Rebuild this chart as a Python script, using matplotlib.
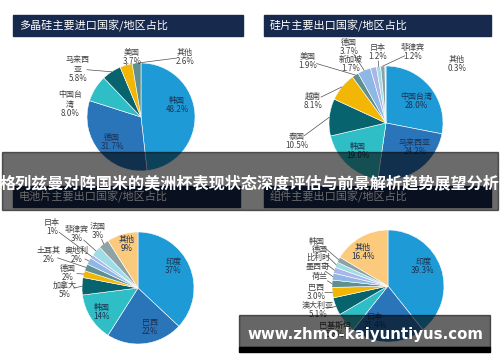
import numpy as np
import matplotlib
matplotlib.use('Agg')
import matplotlib.pyplot as plt
from matplotlib.patches import Rectangle

plt.rcParams['font.family'] = ['Noto Sans CJK SC', 'DejaVu Sans']

W, H = 500, 362

# 颜色
BLUE = '#1e9bd7'
MBLUE = '#2a74ba'
TEAL = '#30bec6'
DTEAL = '#07646f'
GOLD = '#f2b705'
GTEAL = '#5f8f8f'
LBLUE = '#8db8e6'
PERI = '#aab6ea'
LCYAN = '#9fdde6'
GRAY = '#8fa3a6'
PEACH = '#fcca7c'
NAVY = '#17294d'

# 多晶硅主要进口国家/地区占比
poly_names = ['韩国', '德国', '中国台\n湾', '马来西\n亚', '美国', '其他']
poly_vals = [48.2, 31.7, 8.0, 5.8, 3.7, 2.6]
poly_colors = [BLUE, MBLUE, TEAL, DTEAL, GOLD, GTEAL]

# 硅片主要出口国家/地区占比
wafer_names = ['中国台湾', '马来西亚', '韩国', '泰国', '越南', '美国', '德国', '新加坡', '日本', '菲律宾', '其他']
wafer_vals = [28.0, 24.2, 19.0, 10.5, 8.1, 1.9, 3.7, 1.7, 1.2, 1.2, 0.3]
wafer_colors = [BLUE, MBLUE, TEAL, DTEAL, GOLD, GTEAL, LBLUE, PERI, LCYAN, GRAY, PEACH]

# 电池片主要出口国家/地区占比
cell_names = ['印度', '巴西', '韩国', '加拿大', '德国', '土耳其', '奥地利', '日本', '菲律宾', '法国', '其他']
cell_vals = [37, 22, 14, 5, 2, 2, 2, 1, 3, 3, 9]
cell_colors = [BLUE, MBLUE, TEAL, DTEAL, GOLD, GTEAL, LBLUE, PERI, LCYAN, GRAY, PEACH]

# 组件主要出口国家/地区占比
mod_names = ['印度', '日本', '巴基斯坦', '澳大利亚', '巴西', '荷兰', '墨西哥', '比利时', '德国', '韩国', '其他']
mod_vals = [39.3, 21.4, 5.8, 5.1, 3.0, 2.1, 2.0, 1.7, 1.6, 1.6, 16.4]
mod_colors = [BLUE, MBLUE, TEAL, DTEAL, GOLD, GTEAL, LBLUE, PERI, LCYAN, GRAY, PEACH]
mod_show_pct = [True, True, True, True, True, False, False, False, False, False, True]

fig = plt.figure(figsize=(W / 100, H / 100), dpi=100)
ax = fig.add_axes([0, 0, 1, 1])


def Y(y):
    return H - y


def draw_pie(vals, names, colors, center, r, pos, lines, inside, show_pct=None, pct_fmt='{:.1f}%'):
    cx, cy = center
    wedges, _ = ax.pie(vals, colors=colors, startangle=90, counterclock=False,
                       center=(cx, Y(cy)), radius=r,
                       wedgeprops=dict(edgecolor='white', linewidth=0.4))
    for i, w in enumerate(wedges):
        txt = names[i]
        if show_pct is None or show_pct[i]:
            txt += '\n' + pct_fmt.format(vals[i])
        lx, ly = pos[i]
        col = '#1c3150' if inside[i] else '#404040'
        ax.text(lx, Y(ly), txt, ha='center', va='center', fontsize=5.8,
                color=col, linespacing=1.05, zorder=5)
        if lines[i]:
            mid = np.deg2rad((w.theta1 + w.theta2) / 2)
            ex = cx + r * np.cos(mid)
            ey = Y(cy) + r * np.sin(mid)
            dx, dy = ex - lx, ey - Y(ly)
            d = np.hypot(dx, dy)
            sx, sy = lx + dx / d * 9, Y(ly) + dy / d * 9
            ax.plot([sx, ex], [sy, ey], color='#505050', lw=0.5, zorder=4)


def title_box(x, y, w, h, text):
    ax.add_patch(Rectangle((x, Y(y + h)), w, h, color=NAVY, zorder=3))
    ax.text(x + 6, Y(y + h / 2), text, ha='left', va='center', fontsize=8,
            color='white', zorder=4)


title_box(13, 15, 230, 21, '多晶硅主要进口国家/地区占比')
title_box(264, 15, 227, 21, '硅片主要出口国家/地区占比')
title_box(13, 186, 227, 21, '电池片主要出口国家/地区占比')
title_box(264, 186, 227, 21, '组件主要出口国家/地区占比')

draw_pie(poly_vals, poly_names, poly_colors, (141, 117), 54,
         pos=[(177, 105), (112, 142), (70, 104), (78, 69), (132, 57), (185, 57)],
         lines=[False, False, False, True, True, True],
         inside=[True, True, False, False, False, False])

draw_pie(wafer_vals, wafer_names, wafer_colors, (386, 123), 57,
         pos=[(416, 101), (415, 147), (358, 151), (297, 141), (313, 101), (308, 61),
              (349, 47), (351, 64), (378, 52), (413, 52), (457, 64)],
         lines=[False, False, False, True, True, True, True, False, True, True, False],
         inside=[True, True, True, False, False, False, False, False, False, False, False])

draw_pie(cell_vals, cell_names, cell_colors, (138, 288), 56,
         pos=[(173, 266), (150, 327), (102, 312), (65, 290), (68, 273), (49, 255),
              (77, 255), (52, 227), (77, 234), (98, 231), (127, 244)],
         lines=[False, False, False, True, True, True, True, True, True, True, False],
         inside=[True, True, True, False, False, False, False, False, False, False, True],
         pct_fmt='{:.0f}%')

draw_pie(mod_vals, mod_names, mod_colors, (388, 286), 56,
         pos=[(423, 266), (375, 321), (335, 330), (318, 310), (316, 292), (320, 276),
              (318, 266), (318, 257), (320, 249), (317, 241), (363, 252)],
         lines=[False, False, True, True, True, True, True, True, True, True, False],
         inside=[True, True, False, False, False, False, False, False, False, False, True],
         show_pct=mod_show_pct)

# 标题横幅
ax.add_patch(Rectangle((2, Y(210)), 496, 58, color='black', alpha=0.58, zorder=10))
ax.text(250, Y(183), '格列兹曼对阵国米的美洲杯表现状态深度评估与前景解析趋势展望分析',
        ha='center', va='center', fontsize=11.6, fontweight='bold', color='white', zorder=11)

# 水印
ax.add_patch(Rectangle((239, Y(347)), 251, 32, color='black', alpha=0.6, zorder=10))
ax.add_patch(Rectangle((239, Y(352)), 251, 5, color='black', zorder=10))
ax.text(365, Y(334), 'www.zhmo-kaiyuntiyus.com', ha='center', va='center',
        fontsize=10.8, fontweight='bold', color='white', family='DejaVu Sans', zorder=11)

ax.set_xlim(0, W)
ax.set_ylim(0, H)
ax.set_aspect('auto')
ax.axis('off')

fig.savefig('out.png', dpi=100, facecolor='white')
